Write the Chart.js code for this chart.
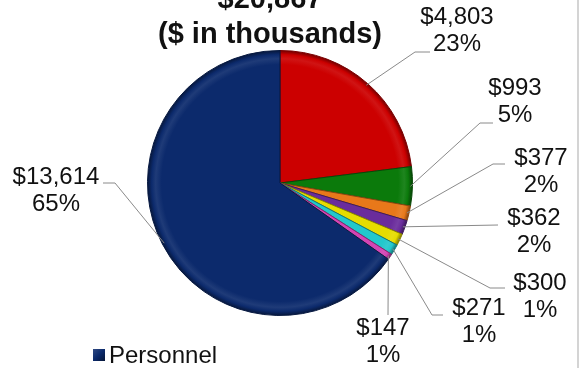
<!DOCTYPE html>
<html>
<head>
<meta charset="utf-8">
<script src="https://cdn.jsdelivr.net/npm/chart.js@4.4.1/dist/chart.umd.min.js"></script>
<style>
  body { margin: 0; background: #fff; }
  #wrap { width: 584px; height: 368px; position: relative; }
</style>
</head>
<body>
<div id="wrap"><canvas id="budgetPie" width="584" height="368"></canvas></div>
<script>
// values in $ thousands, clockwise from 12 o'clock
const categories = ['Category 2', 'Category 3', 'Category 4', 'Category 5', 'Category 6', 'Category 7', 'Category 8', 'Personnel']
const amounts = [4803, 993, 377, 362, 300, 271, 147, 13614]
const titleLines = ['($ in thousands)']
const legendShown = ['Personnel']

const sliceColors = ['#cc0000', '#0b7a0b', '#e8781a', '#6a2c9c', '#e6dc00', '#22c8cc', '#d444b4', '#0c2a6c']

// where each leader line bends and where its text sits
const labelLayout = [
  { elbow: [415, 52], end: [430, 52], text: [457, 17] },
  { elbow: [480, 123], end: [493, 123], text: [515, 88] },
  { elbow: [493, 164], end: [505, 164], text: [541, 158] },
  { elbow: [498, 225], end: [498, 225], text: [534, 218] },
  { elbow: [490, 288], end: [505, 288], text: [540, 283] },
  { elbow: [432, 315], end: [443, 315], text: [479, 308] },
  { elbow: [388, 315], end: [388, 315], text: [383, 328] },
  { elbow: [115, 183], end: [103, 183], text: [56, 177] }
]

const total = amounts.reduce((a, b) => a + b, 0)
const money = (v) => '$' + v.toLocaleString('en-US')
const pct = (v) => Math.round(v / total * 100) + '%'

const shade = (hex, f) => {
  const n = parseInt(hex.slice(1), 16)
  let r = (n >> 16) & 255, g = (n >> 8) & 255, b = n & 255
  if (f > 0) {
    r = r + (255 - r) * f; g = g + (255 - g) * f; b = b + (255 - b) * f
  } else {
    r = r * (1 + f); g = g * (1 + f); b = b * (1 + f)
  }
  return `rgb(${Math.round(r)},${Math.round(g)},${Math.round(b)})`
}

const bevelFill = (context) => {
  const base = sliceColors[context.dataIndex]
  const chart = context.chart
  const area = chart.chartArea
  if (!area) return base
  const cx = (area.left + area.right) / 2
  const cy = (area.top + area.bottom) / 2
  const r = Math.min(area.right - area.left, area.bottom - area.top) / 2
  const grad = chart.ctx.createRadialGradient(cx, cy, 0, cx, cy, r)
  grad.addColorStop(0, base)
  grad.addColorStop(0.89, base)
  grad.addColorStop(0.935, shade(base, 0.08))
  grad.addColorStop(0.965, base)
  grad.addColorStop(1, shade(base, -0.5))
  return grad
}

const pageDecor = {
  id: 'pageDecor',
  beforeDraw(chart) {
    const ctx = chart.ctx
    ctx.save()
    ctx.fillStyle = '#ffffff'
    ctx.fillRect(0, 0, chart.width, chart.height)
    ctx.fillStyle = '#d4d4d4'
    ctx.fillRect(577, 0, 2, chart.height)
    ctx.restore()
  },
  afterDatasetsDraw(chart) {
    const ctx = chart.ctx
    const arcs = chart.getDatasetMeta(0).data
    ctx.save()
    ctx.strokeStyle = '#8a8a8a'
    ctx.lineWidth = 1
    ctx.fillStyle = '#111'
    ctx.font = '24px "Liberation Sans", Arial, sans-serif'
    ctx.textAlign = 'center'
    ctx.textBaseline = 'middle'
    arcs.forEach((arc, i) => {
      const lay = labelLayout[i]
      const mid = (arc.startAngle + arc.endAngle) / 2
      const ax = arc.x + Math.cos(mid) * (arc.outerRadius - 2)
      const ay = arc.y + Math.sin(mid) * (arc.outerRadius - 2)
      ctx.beginPath()
      ctx.moveTo(ax, ay)
      ctx.lineTo(lay.elbow[0], lay.elbow[1])
      ctx.lineTo(lay.end[0], lay.end[1])
      ctx.stroke()
      ctx.fillText(money(amounts[i]), lay.text[0], lay.text[1])
      ctx.fillText(pct(amounts[i]), lay.text[0], lay.text[1] + 27)
    })

    // title, the first line runs off the top edge
    ctx.font = 'bold 29px "Liberation Sans", Arial, sans-serif'
    ctx.textBaseline = 'alphabetic'
    ctx.fillText(money(total), 270, 8)
    ctx.fillText(titleLines[0], 270, 43)

    // legend, only the first entry is in view
    const li = categories.indexOf(legendShown[0])
    const g = ctx.createLinearGradient(93, 349, 105, 361)
    g.addColorStop(0, shade(sliceColors[li], 0.15))
    g.addColorStop(0.5, sliceColors[li])
    g.addColorStop(1, shade(sliceColors[li], -0.5))
    ctx.fillStyle = g
    ctx.fillRect(93, 349, 12, 12)
    ctx.fillStyle = '#111'
    ctx.textAlign = 'left'
    ctx.font = '24px "Liberation Sans", Arial, sans-serif'
    ctx.fillText(legendShown[0], 109, 363)
    ctx.restore()
  }
}

new Chart(document.querySelector('#budgetPie'), {
  type: 'pie',
  data: {
    labels: categories,
    datasets: [{
      data: amounts,
      backgroundColor: bevelFill,
      borderColor: sliceColors.map((c) => shade(c, -0.4)),
      borderWidth: 1
    }]
  },
  options: {
    responsive: false,
    animation: false,
    layout: { padding: { left: 147, right: 171, top: 50, bottom: 52 } },
    plugins: {
      legend: { display: false },
      title: { display: false },
      tooltip: { enabled: false }
    }
  },
  plugins: [pageDecor]
})
</script>
</body>
</html>
